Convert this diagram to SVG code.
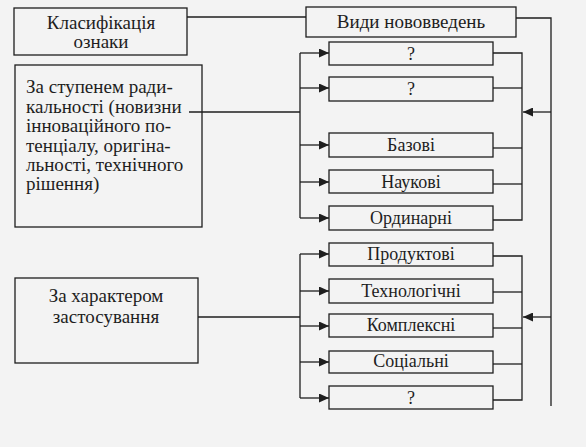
<svg xmlns="http://www.w3.org/2000/svg" width="586" height="447" viewBox="0 0 586 447">
<style>
.bx{fill:none;stroke:#1e1e1e;stroke-width:1.3}
.ln{fill:none;stroke:#1e1e1e;stroke-width:1.3}
</style>
<defs>
<marker id="ah" markerUnits="userSpaceOnUse" markerWidth="11" markerHeight="9" refX="10" refY="4.5" orient="auto">
<path d="M0,0 L10,4.5 L0,9 z" fill="#1e1e1e"/>
</marker>
</defs>
<rect x="0" y="0" width="586" height="447" fill="#f3f3f3"/>

<g id="connectors">
<path class="ln" d="M187,17 H306"/>
<path class="ln" d="M516,18 H551 V406"/>
<path class="ln" d="M551,112 H523" marker-end="url(#ah)"/>
<path class="ln" d="M551,317 H523" marker-end="url(#ah)"/>
<path class="ln" d="M189,112 H300"/>
<path class="ln" d="M300,53 V218"/>
<path class="ln" d="M300,53 H329" marker-end="url(#ah)"/>
<path class="ln" d="M300,88 H329" marker-end="url(#ah)"/>
<path class="ln" d="M300,145 H329" marker-end="url(#ah)"/>
<path class="ln" d="M300,182 H329" marker-end="url(#ah)"/>
<path class="ln" d="M300,218 H329" marker-end="url(#ah)"/>
<path class="ln" d="M493,53 H522 V220 H493"/>
<path class="ln" d="M493,88 H522"/>
<path class="ln" d="M493,148 H522"/>
<path class="ln" d="M493,184 H522"/>
<path class="ln" d="M198,317 H300"/>
<path class="ln" d="M300,254 V398"/>
<path class="ln" d="M300,254 H329" marker-end="url(#ah)"/>
<path class="ln" d="M300,291 H329" marker-end="url(#ah)"/>
<path class="ln" d="M300,326 H329" marker-end="url(#ah)"/>
<path class="ln" d="M300,362 H329" marker-end="url(#ah)"/>
<path class="ln" d="M300,398 H329" marker-end="url(#ah)"/>
<path class="ln" d="M493,256 H522 V400 H493"/>
<path class="ln" d="M493,292 H522"/>
<path class="ln" d="M493,328 H522"/>
<path class="ln" d="M493,364 H522"/>
</g>

<g id="klasyfikatsiia">
<rect class="bx" x="14" y="8" width="173" height="47"/>
<text font-family="Liberation Serif" font-size="19" fill="#1e1e1e" text-anchor="middle" x="101" y="29">Класифікація</text>
<text font-family="Liberation Serif" font-size="19" fill="#1e1e1e" text-anchor="middle" x="101" y="48">ознаки</text>
</g>

<g id="za-stupenem">
<rect class="bx" x="15" y="65" width="187" height="162"/>
<text font-family="Liberation Serif" font-size="19" fill="#1e1e1e" x="26" y="93">За ступенем ради-</text>
<text font-family="Liberation Serif" font-size="19" fill="#1e1e1e" x="26" y="113">кальності (новизни</text>
<text font-family="Liberation Serif" font-size="19" fill="#1e1e1e" x="26" y="132">інноваційного по-</text>
<text font-family="Liberation Serif" font-size="19" fill="#1e1e1e" x="26" y="152">тенціалу, оригіна-</text>
<text font-family="Liberation Serif" font-size="19" fill="#1e1e1e" x="26" y="171">льності, технічного</text>
<text font-family="Liberation Serif" font-size="19" fill="#1e1e1e" x="26" y="190">рішення)</text>
</g>

<g id="za-kharakterom">
<rect class="bx" x="15" y="278" width="183" height="85"/>
<text font-family="Liberation Serif" font-size="19" fill="#1e1e1e" text-anchor="middle" x="106" y="302">За характером</text>
<text font-family="Liberation Serif" font-size="19" fill="#1e1e1e" text-anchor="middle" x="106" y="323">застосування</text>
</g>

<g id="vydy">
<rect class="bx" x="306" y="7" width="210" height="30"/>
<text font-family="Liberation Serif" font-size="19" fill="#1e1e1e" text-anchor="middle" x="411" y="28">Види нововведень</text>
</g>

<g id="q1"><rect class="bx" x="329" y="42" width="164" height="23"/><text font-family="Liberation Serif" font-size="18" fill="#1e1e1e" text-anchor="middle" x="411" y="60">?</text></g>
<g id="q2"><rect class="bx" x="329" y="77" width="164" height="24"/><text font-family="Liberation Serif" font-size="18" fill="#1e1e1e" text-anchor="middle" x="411" y="95">?</text></g>
<g id="bazovi"><rect class="bx" x="329" y="133" width="164" height="24"/><text font-family="Liberation Serif" font-size="18" fill="#1e1e1e" text-anchor="middle" x="411" y="151">Базові</text></g>
<g id="naukovi"><rect class="bx" x="329" y="170" width="164" height="23"/><text font-family="Liberation Serif" font-size="18" fill="#1e1e1e" text-anchor="middle" x="411" y="188">Наукові</text></g>
<g id="ordynarni"><rect class="bx" x="329" y="206" width="164" height="24"/><text font-family="Liberation Serif" font-size="18" fill="#1e1e1e" text-anchor="middle" x="411" y="224">Ординарні</text></g>

<g id="produktovi"><rect class="bx" x="329" y="243" width="164" height="23"/><text font-family="Liberation Serif" font-size="18" fill="#1e1e1e" text-anchor="middle" x="411" y="260">Продуктові</text></g>
<g id="tekhnolohichni"><rect class="bx" x="329" y="279" width="164" height="24"/><text font-family="Liberation Serif" font-size="18" fill="#1e1e1e" text-anchor="middle" x="411" y="297">Технологічні</text></g>
<g id="kompleksni"><rect class="bx" x="329" y="314" width="164" height="23"/><text font-family="Liberation Serif" font-size="18" fill="#1e1e1e" text-anchor="middle" x="411" y="331">Комплексні</text></g>
<g id="sotsialni"><rect class="bx" x="329" y="351" width="164" height="22"/><text font-family="Liberation Serif" font-size="18" fill="#1e1e1e" text-anchor="middle" x="411" y="367">Соціальні</text></g>
<g id="q3"><rect class="bx" x="329" y="386" width="164" height="23"/><text font-family="Liberation Serif" font-size="18" fill="#1e1e1e" text-anchor="middle" x="411" y="404">?</text></g>
</svg>
